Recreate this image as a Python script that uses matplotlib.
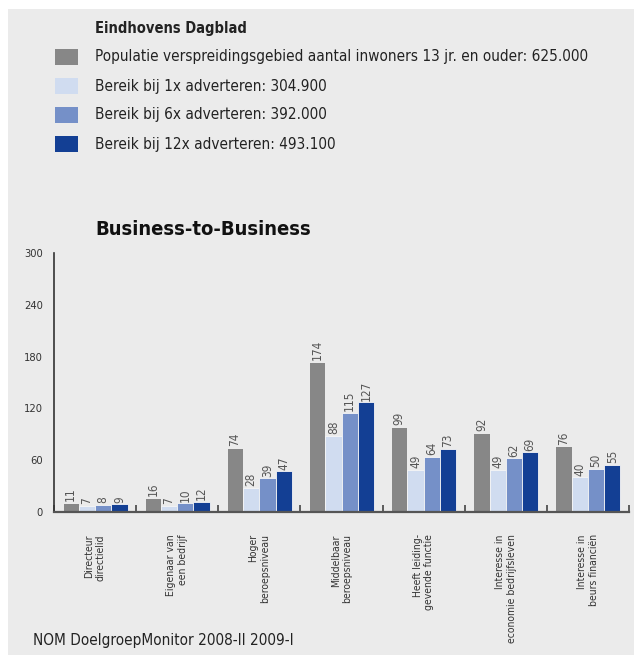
import numpy as np
import matplotlib.pyplot as plt
from matplotlib.patches import Rectangle

plt.rcParams['font.family'] = ['DejaVu Sans']
plt.rcParams['font.stretch'] = 'condensed'

categories = ['Directeur\ndirectielid', 'Eigenaar van\neen bedrijf', 'Hoger\nberoepsniveau',
              'Middelbaar\nberoepsniveau', 'Heeft leiding-\ngevende functie',
              'Interesse in\neconomie bedrijfsleven', 'Interesse in\nbeurs financiën']
populatie = [11, 16, 74, 174, 99, 92, 76]
bereik_1x = [7, 7, 28, 88, 49, 49, 40]
bereik_6x = [8, 10, 39, 115, 64, 62, 50]
bereik_12x = [9, 12, 47, 127, 73, 69, 55]

series_labels = ['Populatie verspreidingsgebied aantal inwoners 13 jr. en ouder: 625.000',
                 'Bereik bij 1x adverteren: 304.900',
                 'Bereik bij 6x adverteren: 392.000',
                 'Bereik bij 12x adverteren: 493.100']
colors = ['#878787', '#d0dcf0', '#7590c8', '#133f94']

fig = plt.figure(figsize=(6.34, 6.55), dpi=100)
fig.patches.append(Rectangle((8 / 634, 0), 1, 1 - 9 / 655, transform=fig.transFigure,
                             facecolor='#ebebeb', edgecolor='none', zorder=-5))

ax = fig.add_axes([54 / 634, 1 - 512 / 655, 575 / 634, 259 / 655])
ax.set_facecolor('none')

x = np.arange(len(categories))
width = 0.198
for i, (vals, c) in enumerate(zip([populatie, bereik_1x, bereik_6x, bereik_12x], colors)):
    pos = x + (i - 1.5) * 0.198
    bars = ax.bar(pos, vals, width, color=c, edgecolor='#f6f6f6', linewidth=0.6, zorder=2)
    for b, v in zip(bars, vals):
        ax.text(b.get_x() + b.get_width() / 2, v + 2, str(v), rotation=90,
                ha='center', va='bottom', fontsize=8.5, color='#555555')

ax.set_xlim(-0.5, len(categories) - 0.5)
ax.set_ylim(0, 300)
ax.set_yticks([0, 60, 120, 180, 240, 300])
ax.tick_params(axis='y', length=0, labelsize=8, labelcolor='#333333', pad=8)

ax.set_xticks(x)
ax.set_xticklabels(categories, rotation=90, ha='center', va='top',
                   multialignment='right', fontsize=7.5, color='#333333')
ax.tick_params(axis='x', length=0, pad=16)
ax.set_xticks(np.arange(-0.5, len(categories)), minor=True)
ax.tick_params(axis='x', which='minor', direction='in', length=5, width=1.2, color='#444444')

for s in ['top', 'right']:
    ax.spines[s].set_visible(False)
ax.spines['left'].set_color('#333333')
ax.spines['bottom'].set_color('#555555')
ax.spines['left'].set_linewidth(1.2)
ax.spines['bottom'].set_linewidth(1.6)

# legend block
fig.text(95 / 634, 1 - 28 / 655, 'Eindhovens Dagblad', fontsize=10.5, fontweight='bold',
         va='center', ha='left', color='#222222')
for i, (lab, c) in enumerate(zip(series_labels, colors)):
    yc = 57 + i * 29
    fig.patches.append(Rectangle((55 / 634, 1 - (yc + 8) / 655), 23 / 634, 16 / 655,
                                 transform=fig.transFigure, facecolor=c, edgecolor='none'))
    fig.text(95 / 634, 1 - yc / 655, lab, fontsize=11, va='center', ha='left', color='#222222')

fig.text(95 / 634, 1 - 229 / 655, 'Business-to-Business', fontsize=14.5, fontweight='bold',
         va='center', ha='left', color='#111111')
fig.text(33 / 634, 1 - 640 / 655, 'NOM DoelgroepMonitor 2008-II 2009-I', fontsize=11,
         va='center', ha='left', color='#222222')

fig.savefig('out.png', dpi=100)
